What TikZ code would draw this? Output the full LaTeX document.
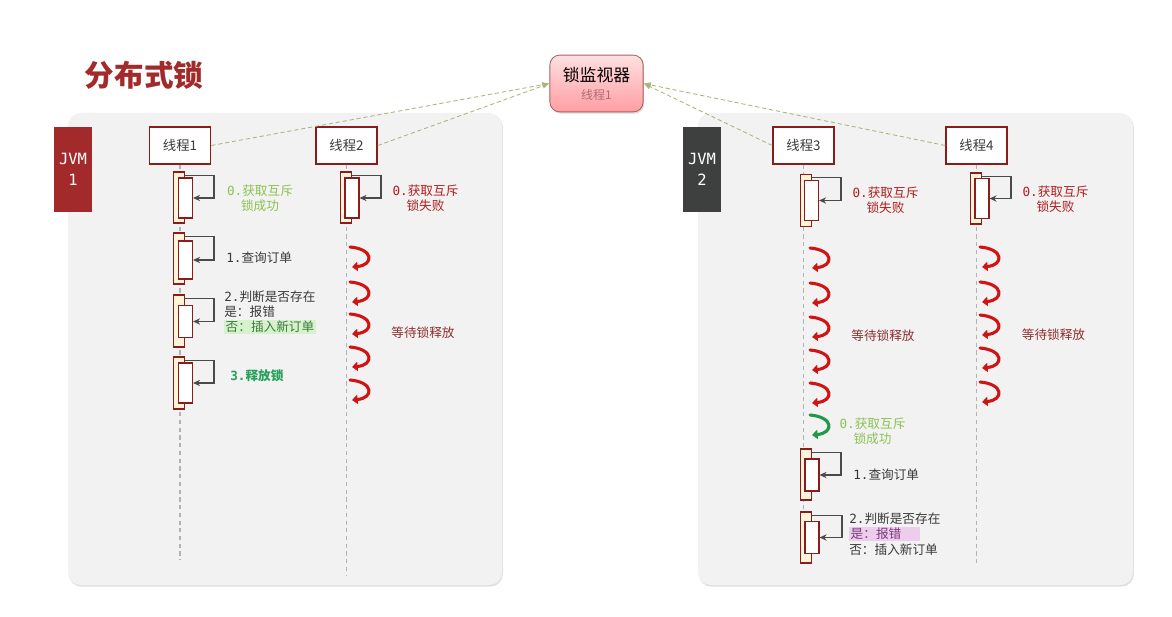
\documentclass[tikz,border=0pt]{standalone}
\usepackage{fontspec}
\setmainfont{Noto Sans CJK SC}
\setmonofont{DejaVu Sans Mono}
\usetikzlibrary{arrows.meta, positioning, shadows}
\definecolor{jvmred}{HTML}{A32A2A}
\definecolor{jvmgray}{HTML}{3D403F}
\definecolor{boxred}{HTML}{8B1C1C}
\definecolor{panelbg}{HTML}{F2F2F2}
\definecolor{actfill}{HTML}{FFF3D9}
\definecolor{okgreen}{HTML}{8CC152}
\definecolor{relgreen}{HTML}{27A05A}
\definecolor{failred}{HTML}{B01E1E}
\definecolor{waitred}{HTML}{8E2F2F}
\definecolor{txtgray}{HTML}{3A3A3A}
\definecolor{arrgray}{HTML}{4A4A4A}
\definecolor{dashgreen}{HTML}{A9B57E}
\definecolor{curlred}{HTML}{D01414}
\definecolor{curlgreen}{HTML}{1E9A4A}
\definecolor{hlgreen}{HTML}{D6F2CD}
\definecolor{hlgtext}{HTML}{3D7A3D}
\definecolor{hlpink}{HTML}{EDCDEB}
\definecolor{hlptext}{HTML}{7A3B7A}
\definecolor{montop}{HTML}{FFE0E0}
\definecolor{monbot}{HTML}{FF9EA4}
\newcommand{\pre}[1]{{\ttfamily #1}}
\setlength{\fboxsep}{1pt}

\begin{document}
\begin{tikzpicture}[x=0.025cm, y=-0.025cm,
  panel/.style={fill=panelbg, rounded corners=9pt,
    drop shadow={shadow xshift=0.6pt, shadow yshift=-1.2pt, opacity=0.3, fill=black!40}},
  jvm/.style={fill=#1, minimum width=0.95cm, minimum height=2.12cm, text=white,
    align=center, font=\ttfamily\fontsize{11}{15}\selectfont, inner sep=0pt},
  thread/.style={draw=boxred, line width=0.9pt, fill=white, minimum width=1.53cm,
    minimum height=0.93cm, inner sep=0pt, font=\fontsize{9.5}{11}\selectfont, text=txtgray},
  actout/.style={draw=boxred, line width=0.8pt, fill=actfill, minimum width=0.28cm,
    minimum height=#1, inner sep=0pt},
  actin/.style={draw=boxred, line width=0.8pt, fill=white, minimum width=0.35cm,
    minimum height=#1, inner sep=0pt},
  selfarr/.style={-{Stealth[length=5pt, width=4.5pt]}, line width=1pt, arrgray},
  lifeline/.style={dash pattern=on 3pt off 2.5pt, black!30, line width=0.8pt},
  link/.style={-{Latex[length=5pt, width=4pt]}, dash pattern=on 3pt off 2pt, dashgreen, line width=0.6pt},
  lbl/.style={font=\fontsize{9}{10.8}\selectfont, align=center, inner sep=0pt},
  curl/.style={-{Triangle[length=4pt, width=6.5pt]}, line width=2.2pt, draw=#1, line cap=round},
]

% Background
\fill[white] (0,0) rectangle (1172,617);
\useasboundingbox (0,0) rectangle (1172,617);

% Panels
\fill[panel] (68,113) rectangle (502,585);
\fill[panel] (698,113) rectangle (1133,585);

% Title
\node[font=\fontsize{21}{25}\selectfont\bfseries, text=jvmred] (title) at (144,75) {分布式锁};

% JVM tags
\node[jvm=jvmred] (jvm1) at (73,169.5) {JVM\\1};
\node[jvm=jvmgray] (jvm2) at (702,169.5) {JVM\\2};

% Monitor
\node[draw=boxred!70, line width=0.6pt, rounded corners=7pt, top color=montop, bottom color=monbot,
  minimum width=2.33cm, minimum height=1.42cm, align=center, inner sep=0pt,
  drop shadow={shadow xshift=0.8pt, shadow yshift=-1.2pt, opacity=0.3}] (mon) at (596.5,83.5)
  {{\fontsize{12}{14}\selectfont 锁监视器}\\[1pt]{\fontsize{8.5}{10}\selectfont\color{waitred!70} 线程1}};

% Threads
\node[thread] (t1) at (180,145.5) {线程1};
\node[thread] (t2) at (346.5,145.5) {线程2};
\node[thread] (t3) at (803.5,145.5) {线程3};
\node[thread] (t4) at (976.5,145.5) {线程4};

\draw[link] (t1.east) -- (mon.west);
\draw[link] (t2.east) -- (mon.west);
\draw[link] (t3.west) -- (mon.east);
\draw[link] (t4.west) -- (mon.east);

% Lifelines
\coordinate (t1end) at (180,560);
\coordinate (t2end) at (346.5,576);
\coordinate (t3end) at (803.5,562);
\coordinate (t4end) at (976.5,565);
\draw[lifeline] (t1) -- (t1end);
\draw[lifeline] (t2) -- (t2end);
\draw[lifeline] (t3) -- (t3end);
\draw[lifeline] (t4) -- (t4end);

% === Thread 1 ===
\node[actout=1.275cm] (t1a0o) at (179,197.5) {};
\node[actin=1.0cm] (t1a0i) at (185.5,198) {};
\draw[selfarr] ([yshift=-3pt]t1a0o.north east) -- ++(29,0) |- (t1a0i.east);
\node[lbl, text=okgreen] (t1l0) at (260,198) {\pre{0.}获取互斥\\锁成功};

\node[actout=1.275cm] (t1a1o) at (179,258.5) {};
\node[actin=0.95cm] (t1a1i) at (185.5,260) {};
\draw[selfarr] ([yshift=-3pt]t1a1o.north east) -- ++(29,0) |- (t1a1i.east);
\node[lbl, text=txtgray, anchor=west] (t1l1) at (226,258) {\pre{1.}查询订单};

\node[actout=1.3cm] (t1a2o) at (179,321) {};
\node[actin=0.78cm] (t1a2i) at (185.5,321.5) {};
\draw[selfarr] ([yshift=-3pt]t1a2o.north east) -- ++(29,0) |- (t1a2i.east);
\node[lbl, align=left, text=txtgray, anchor=west] (t1l2) at (224,312.5)
  {\pre{2.}判断是否存在\\是：报错\\\colorbox{hlgreen}{\textcolor{hlgtext}{否：插入新订单}}};

\node[actout=1.3cm] (t1a3o) at (179,383) {};
\node[actin=1.0cm] (t1a3i) at (185.5,383) {};
\draw[selfarr] ([yshift=-3pt]t1a3o.north east) -- ++(29,0) |- (t1a3i.east);
\node[lbl, text=relgreen, anchor=west, font=\fontsize{9}{10.8}\selectfont\bfseries] (t1l3) at (230,376) {\pre{3.}释放锁};

% === Thread 2 ===
\node[actout=1.275cm] (t2a0o) at (346,197.5) {};
\node[actin=1.0cm] (t2a0i) at (352,198) {};
\draw[selfarr] ([yshift=-3pt]t2a0o.north east) -- ++(29,0) |- (t2a0i.east);
\node[lbl, text=failred] (t2l0) at (425.5,198) {\pre{0.}获取互斥\\锁失败};
\foreach \y in {257,292,324,357,390} {
  \draw[curl=curlred] (350,\y-10) .. controls (374,\y-8) and (374,\y+8) .. (352,\y+10);
}
\node[lbl, text=waitred] (t2w) at (423,333) {等待锁释放};

% === Thread 3 ===
\node[actout=1.32cm] (t3a0o) at (806,200.5) {};
\node[actin=0.98cm] (t3a0i) at (811.5,200.5) {};
\draw[selfarr] ([yshift=-3pt]t3a0o.north east) -- ++(29,0) |- (t3a0i.east);
\node[lbl, text=failred] (t3l0) at (885.5,200) {\pre{0.}获取互斥\\锁失败};
\foreach \y in {258,293,327,360,393} {
  \draw[curl=curlred] (810,\y-10) .. controls (834,\y-8) and (834,\y+8) .. (812,\y+10);
}
\node[lbl, text=waitred] (t3w) at (883,336) {等待锁释放};
\draw[curl=curlgreen] (810,415) .. controls (834,417) and (834,433) .. (812,435);
\node[lbl, text=okgreen] (t3l0b) at (872.5,431) {\pre{0.}获取互斥\\锁成功};

\node[actout=1.275cm] (t3a1o) at (806,474.5) {};
\node[actin=0.8cm] (t3a1i) at (812,475) {};
\draw[selfarr] ([yshift=-3pt]t3a1o.north east) -- ++(29,0) |- (t3a1i.east);
\node[lbl, text=txtgray, anchor=west] (t3l1) at (853,475) {\pre{1.}查询订单};

\node[actout=1.275cm] (t3a2o) at (806,537.5) {};
\node[actin=0.78cm] (t3a2i) at (812,537.5) {};
\draw[selfarr] ([yshift=-3pt]t3a2o.north east) -- ++(30,0) |- (t3a2i.east);
\node[lbl, align=left, text=txtgray, anchor=west] (t3l2) at (849,534)
  {\pre{2.}判断是否存在\\\colorbox{hlpink}{\textcolor{hlptext}{是：报错\hspace{12pt}}}\\否：插入新订单};

% === Thread 4 ===
\node[actout=1.275cm] (t4a0o) at (976,198.5) {};
\node[actin=1.02cm] (t4a0i) at (982,198.5) {};
\draw[selfarr] ([yshift=-3pt]t4a0o.north east) -- ++(29,0) |- (t4a0i.east);
\node[lbl, text=failred] (t4l0) at (1055.5,199.5) {\pre{0.}获取互斥\\锁失败};
\foreach \y in {257,292,325,358,392} {
  \draw[curl=curlred] (980,\y-10) .. controls (1004,\y-8) and (1004,\y+8) .. (982,\y+10);
}
\node[lbl, text=waitred] (t4w) at (1053.5,335) {等待锁释放};

\end{tikzpicture}
\end{document}
